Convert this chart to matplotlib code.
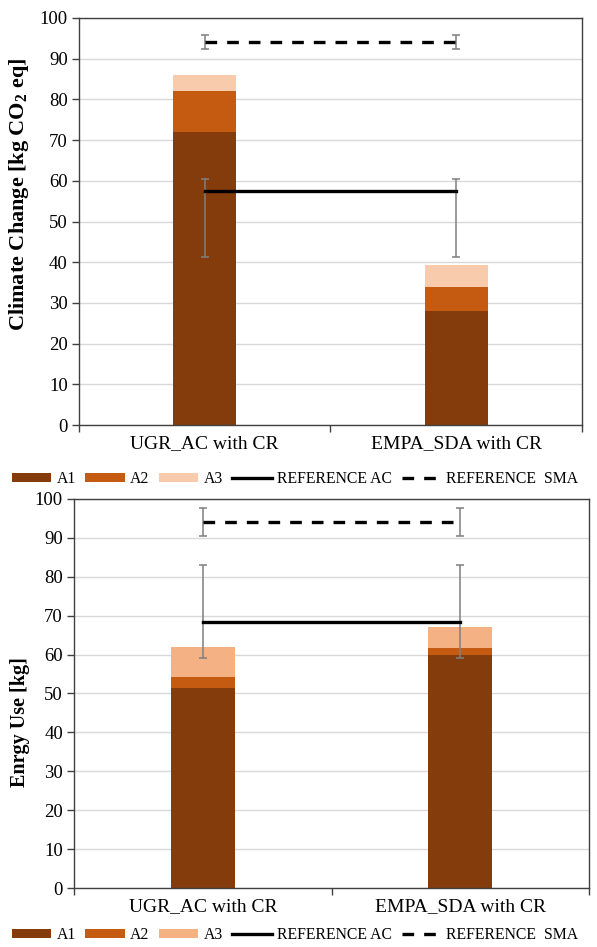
import matplotlib

matplotlib.use("Agg")
import matplotlib.pyplot as plt
from matplotlib.lines import Line2D
from matplotlib.patches import Patch

plt.rcParams["font.family"] = ["Liberation Serif", "DejaVu Serif"]
plt.rcParams["mathtext.fontset"] = "custom"
plt.rcParams["mathtext.rm"] = "Liberation Serif"
plt.rcParams["mathtext.bf"] = "Liberation Serif:bold"

categories = ["UGR_AC with CR", "EMPA_SDA with CR"]
series_names = ["A1", "A2", "A3"]

# climate change panel
cc_a1 = [72.0, 28.0]
cc_a2 = [10.0, 6.0]
cc_a3 = [4.0, 5.3]
cc_ref_ac = [57.5, 57.5]
cc_ref_ac_low = [16.3, 16.3]
cc_ref_ac_high = [2.9, 2.9]
cc_ref_sma = [94.1, 94.1]
cc_ref_sma_err = [1.6, 1.6]

# energy use panel
eu_a1 = [51.3, 60.0]
eu_a2 = [3.0, 1.8]
eu_a3 = [7.6, 5.2]
eu_ref_ac = [68.3, 68.3]
eu_ref_ac_low = [9.2, 9.2]
eu_ref_ac_high = [14.8, 14.8]
eu_ref_sma = [94.1, 94.1]
eu_ref_sma_err = [3.5, 3.5]

C_A1 = "#843C0C"
C_A2 = "#C55A11"
C_A3_TOP = "#F8CBAD"
C_A3_BOT = "#F4B183"
ERR = "#7F7F7F"


def draw_panel(ax, a1, a2, a3, a3_color, ref_ac, ac_lo, ac_hi, ref_sma, sma_err,
               ylabel, label_size):
    x = list(range(len(categories)))
    base2 = [p + q for p, q in zip(a1, a2)]
    ax.bar(x, a1, width=0.25, color=C_A1, zorder=2)
    ax.bar(x, a2, width=0.25, bottom=a1, color=C_A2, zorder=2)
    ax.bar(x, a3, width=0.25, bottom=base2, color=a3_color, zorder=2)

    ax.errorbar(x, ref_ac, yerr=[ac_lo, ac_hi], fmt="none", ecolor=ERR,
                elinewidth=1.1, capsize=3, capthick=1.1, zorder=3)
    ax.plot(x, ref_ac, color="black", linewidth=2.4, zorder=4)
    ax.errorbar(x, ref_sma, yerr=sma_err, fmt="none", ecolor=ERR,
                elinewidth=1.1, capsize=3, capthick=1.1, zorder=3)
    ax.plot(x, ref_sma, color="black", linewidth=2.4, linestyle=(0, (3.5, 3)), zorder=4)

    ax.set_xlim(-0.5, 1.5)
    ax.set_ylim(0, 100)
    ax.set_yticks(range(0, 101, 10))
    ax.yaxis.grid(True, color="#D9D9D9", linewidth=1, zorder=0)
    ax.set_axisbelow(True)
    ax.set_xticks(x)
    ax.set_xticklabels(categories, fontsize=14)
    ax.tick_params(axis="x", which="major", length=0, pad=7)
    ax.set_xticks([-0.5, 0.5, 1.5], minor=True)
    ax.tick_params(axis="x", which="minor", length=5, width=1, color="#404040")
    ax.tick_params(axis="y", labelsize=13.5, length=5, width=1, color="#404040", pad=3)
    for side in ("top", "right", "left", "bottom"):
        ax.spines[side].set_color("#404040")
        ax.spines[side].set_linewidth(1)
    ax.set_ylabel(ylabel, fontsize=label_size, fontweight="bold")


fig = plt.figure(figsize=(5.97, 9.47), dpi=100)
ax_top = fig.add_axes((0.1323, 0.5512, 0.8425, 0.4298))
ax_bot = fig.add_axes((0.1240, 0.0623, 0.8626, 0.4108))

draw_panel(ax_top, cc_a1, cc_a2, cc_a3, C_A3_TOP, cc_ref_ac, cc_ref_ac_low,
           cc_ref_ac_high, cc_ref_sma, cc_ref_sma_err,
           r"Climate Change [kg CO$_\mathbf{2}$ eq]", 16)
draw_panel(ax_bot, eu_a1, eu_a2, eu_a3, C_A3_BOT, eu_ref_ac, eu_ref_ac_low,
           eu_ref_ac_high, eu_ref_sma, eu_ref_sma_err, "Enrgy Use [kg]", 14.5)
ax_top.yaxis.set_label_coords(-0.095, 0.568)
ax_bot.yaxis.set_label_coords(-0.085, 0.427)


def add_legend(a3_color, y):
    handles = [
        Patch(facecolor=C_A1),
        Patch(facecolor=C_A2),
        Patch(facecolor=a3_color),
        Line2D([], [], color="black", linewidth=2.4),
        Line2D([], [], color="black", linewidth=2.4, linestyle=(0, (3.5, 3))),
    ]
    labels = series_names + ["REFERENCE AC", "REFERENCE  SMA"]
    fig.legend(handles, labels, loc="center left", bbox_to_anchor=(0.02, y),
               ncol=5, frameon=False, fontsize=11.3, handlelength=2.5,
               handleheight=0.45, handletextpad=0.35, columnspacing=0.6,
               borderpad=0, borderaxespad=0)


add_legend(C_A3_TOP, 0.4942)
add_legend(C_A3_BOT, 0.0127)

fig.savefig("out.png", dpi=100)
